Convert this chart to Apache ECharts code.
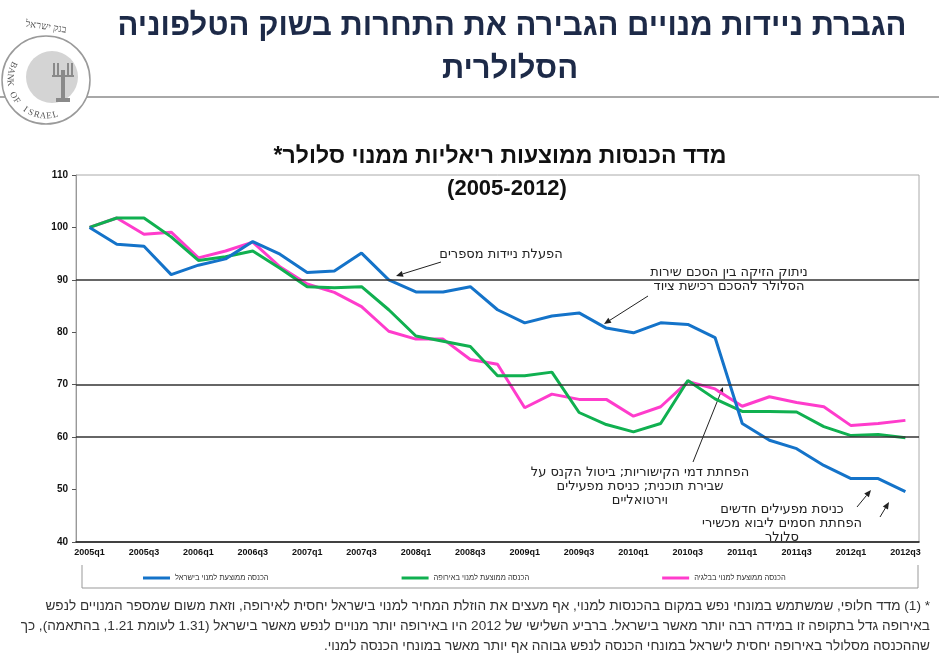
<!DOCTYPE html>
<html>
<head>
<meta charset="utf-8">
<script src="https://cdn.jsdelivr.net/npm/echarts@6/dist/echarts.min.js"></script>
<style>
  html, body { margin: 0; padding: 0; background: #fff; }
  #chart { width: 939px; height: 659px; }
</style>
</head>
<body>
<div id="chart" dir="rtl"></div>
<script>
// quarters 2005q1 .. 2012q3
const quarters = [
  '2005q1', '2005q2', '2005q3', '2005q4', '2006q1', '2006q2', '2006q3', '2006q4',
  '2007q1', '2007q2', '2007q3', '2007q4', '2008q1', '2008q2', '2008q3', '2008q4',
  '2009q1', '2009q2', '2009q3', '2009q4', '2010q1', '2010q2', '2010q3', '2010q4',
  '2011q1', '2011q2', '2011q3', '2011q4', '2012q1', '2012q2', '2012q3'
];
const israel = [100, 96.8, 96.4, 91.0, 92.8, 94.0, 97.3, 94.9, 91.4, 91.7, 95.1, 90.0, 87.7, 87.7, 88.7, 84.3,
  81.8, 83.1, 83.7, 80.8, 79.9, 81.8, 81.5, 79.0, 62.6, 59.4, 57.8, 54.6, 52.1, 52.1, 49.6];
const europe = [100, 101.8, 101.8, 98.2, 93.7, 94.4, 95.5, 92.2, 88.7, 88.5, 88.7, 84.3, 79.3, 78.3, 77.3, 71.7,
  71.7, 72.4, 64.7, 62.4, 61.0, 62.6, 70.8, 67.3, 64.9, 64.9, 64.8, 62.0, 60.3, 60.5, 59.9];
const belgium = [100, 101.8, 98.7, 99.1, 94.2, 95.5, 97.2, 92.5, 89.2, 87.6, 84.9, 80.2, 78.7, 78.7, 74.8, 73.9,
  65.6, 68.2, 67.2, 67.2, 64.0, 65.8, 70.6, 69.2, 65.9, 67.7, 66.6, 65.8, 62.2, 62.6, 63.2];
const gridLines = [90, 70, 60];

const seriesNames = ['הכנסה ממוצעת למנוי בישראל', 'הכנסה ממוצעת למנוי באירופה', 'הכנסה ממוצעת למנוי בבלגיה'];
const colors = ['#1473c9', '#10b050', '#ff3ccc'];

const FONT = '"Liberation Sans", "DejaVu Sans", sans-serif';
const NOTE_FONT = '"DejaVu Sans", sans-serif';

function arrow(x1, y1, x2, y2) {
  const a = Math.atan2(y2 - y1, x2 - x1);
  const L = 7, W = 3;
  const bx = x2 - L * Math.cos(a), by = y2 - L * Math.sin(a);
  return [
    { type: 'line', shape: { x1: x1, y1: y1, x2: bx, y2: by }, style: { stroke: '#222', lineWidth: 1 } },
    { type: 'polygon', shape: { points: [[x2, y2],
        [bx + W * Math.sin(a), by - W * Math.cos(a)],
        [bx - W * Math.sin(a), by + W * Math.cos(a)]] }, style: { fill: '#222' } }
  ];
}

function note(x, y, text) {
  return { type: 'text', x: x, y: y, style: { text: text, font: '13px ' + NOTE_FONT, fill: '#222',
    align: 'center', verticalAlign: 'middle', lineHeight: 14 } };
}

// rough Bank of Israel logo
function logo() {
  const cx = 46, cy = 80, r = 36;
  const els = [
    { type: 'circle', shape: { cx: cx, cy: cy, r: 44 }, style: { fill: '#fff', stroke: '#9a9a9a', lineWidth: 1.5 } },
    { type: 'circle', shape: { cx: cx + 6, cy: cy - 3, r: 26 }, style: { fill: '#d4d4d4' } },
    { type: 'rect', shape: { x: cx + 10, y: cy + 18, width: 14, height: 4 }, style: { fill: '#8a8a8a' } },
    { type: 'rect', shape: { x: cx + 15, y: cy - 10, width: 4, height: 30 }, style: { fill: '#8a8a8a' } }
  ];
  [-9, -5, 5, 9].forEach(function (d) {
    els.push({ type: 'line', shape: { x1: cx + 17 + d, y1: cy - 17, x2: cx + 17 + d, y2: cy - 4 },
      style: { stroke: '#8a8a8a', lineWidth: 2 } });
  });
  els.push({ type: 'line', shape: { x1: cx + 6, y1: cy - 4, x2: cx + 28, y2: cy - 4 }, style: { stroke: '#8a8a8a', lineWidth: 2 } });
  const word = 'BANK OF ISRAEL';
  for (let i = 0; i < word.length; i++) {
    const th = (205 - i * 10) * Math.PI / 180;
    els.push({ type: 'text', x: cx + r * Math.cos(th), y: cy + r * Math.sin(th),
      rotation: -(th - Math.PI / 2),
      style: { text: word[i], font: '9px "Liberation Serif", serif', fill: '#555', align: 'center', verticalAlign: 'middle' } });
  }
  els.push({ type: 'text', x: 46, y: 27, rotation: -0.15,
    style: { text: 'בנק ישראל', font: '10px "Liberation Serif", serif', fill: '#555', align: 'center', verticalAlign: 'middle' } });
  return els;
}

const chart = echarts.init(document.getElementById('chart'));
chart.setOption({
  backgroundColor: '#fff',
  animation: false,
  textStyle: { fontFamily: FONT },
  grid: { left: 76, right: 20, top: 175, bottom: 117, show: true, borderColor: '#aaa', borderWidth: 1 },
  legend: {
    left: 143, top: 574, padding: 0, itemGap: 133, itemWidth: 27, itemHeight: 3, icon: 'rect',
    textStyle: { fontSize: 7.5, color: '#333', fontFamily: FONT },
    data: seriesNames
  },
  xAxis: {
    type: 'category',
    data: quarters,
    boundaryGap: true,
    axisLine: { lineStyle: { color: '#111', width: 1.5 } },
    axisTick: { interval: 0, inside: true, length: 4, lineStyle: { color: '#111' } },
    axisLabel: { interval: 1, fontSize: 9, fontWeight: 'bold', color: '#111', margin: 6 },
    splitLine: { show: false }
  },
  yAxis: {
    type: 'value', min: 40, max: 110, interval: 10,
    axisLine: { show: true, lineStyle: { color: '#999' } },
    axisTick: { show: true, length: 4, lineStyle: { color: '#555' } },
    axisLabel: { fontSize: 10, fontWeight: 'bold', color: '#111', margin: 8 },
    splitLine: { show: false }
  },
  series: [
    { name: seriesNames[0], type: 'line', data: israel, symbol: 'none', z: 4,
      lineStyle: { color: colors[0], width: 3 }, itemStyle: { color: colors[0] },
      markLine: { silent: true, symbol: 'none', label: { show: false },
        lineStyle: { color: '#333', width: 1.5, type: 'solid' },
        data: gridLines.map(function (v) { return { yAxis: v }; }) } },
    { name: seriesNames[1], type: 'line', data: europe, symbol: 'none', z: 3,
      lineStyle: { color: colors[1], width: 3 }, itemStyle: { color: colors[1] } },
    { name: seriesNames[2], type: 'line', data: belgium, symbol: 'none', z: 2,
      lineStyle: { color: colors[2], width: 3 }, itemStyle: { color: colors[2] } }
  ],
  graphic: [
    { type: 'line', shape: { x1: 0, y1: 97, x2: 939, y2: 97 }, style: { stroke: '#a8a8a8', lineWidth: 2 } }
  ].concat(logo()).concat([
    { type: 'text', x: 512, y: 26, style: { text: 'הגברת ניידות מנויים הגבירה את התחרות בשוק הטלפוניה',
      font: 'bold 31px ' + FONT, fill: '#1d2a48', align: 'center', verticalAlign: 'middle' } },
    { type: 'text', x: 510, y: 69, style: { text: 'הסלולרית',
      font: 'bold 31px ' + FONT, fill: '#1d2a48', align: 'center', verticalAlign: 'middle' } },
    { type: 'text', x: 500, y: 157, style: { text: 'מדד הכנסות ממוצעות ריאליות ממנוי סלולר*',
      font: 'bold 23px ' + FONT, fill: '#111', align: 'center', verticalAlign: 'middle' } },
    { type: 'text', x: 507, y: 189, style: { text: '(2005-2012)',
      font: 'bold 22px ' + FONT, fill: '#111', align: 'center', verticalAlign: 'middle' } },
    note(501, 255, 'הפעלת ניידות מספרים'),
    note(729, 280, 'ניתוק הזיקה בין הסכם שירות\nהסלולר להסכם רכישת ציוד'),
    note(640, 487, 'הפחתת דמי הקישוריות; ביטול הקנס על\nשבירת תוכנית; כניסת מפעילים\nוירטואליים'),
    note(782, 524, 'כניסת מפעילים חדשים\nהפחתת חסמים ליבוא מכשירי\nסלולר'),
    { type: 'polyline', shape: { points: [[82, 565], [82, 588], [918, 588], [918, 565]] },
      style: { stroke: '#999', lineWidth: 1, fill: null } },
    { type: 'text', x: 930, y: 626, style: {
      text: '* (1) מדד חלופי, שמשתמש במונחי נפש במקום בהכנסות למנוי, אף מעצים את הוזלת המחיר למנוי בישראל יחסית לאירופה, וזאת משום שמספר המנויים לנפש\n' +
            'באירופה גדל בתקופה זו במידה רבה יותר מאשר בישראל. ברביע השלישי של 2012 היו באירופה יותר מנויים לנפש מאשר בישראל (1.31 לעומת 1.21, בהתאמה), כך\n' +
            'שההכנסה מסלולר באירופה יחסית לישראל במונחי הכנסה לנפש גבוהה אף יותר מאשר במונחי הכנסה למנוי.',
      font: '13.6px ' + FONT, fill: '#333', align: 'right', verticalAlign: 'middle', lineHeight: 20 } }
  ]).concat(arrow(441, 262, 396, 276))
    .concat(arrow(648, 296, 604, 324))
    .concat(arrow(693, 462, 723, 387))
    .concat(arrow(857, 507, 871, 490))
    .concat(arrow(880, 517, 889, 502))
});
</script>
</body>
</html>
